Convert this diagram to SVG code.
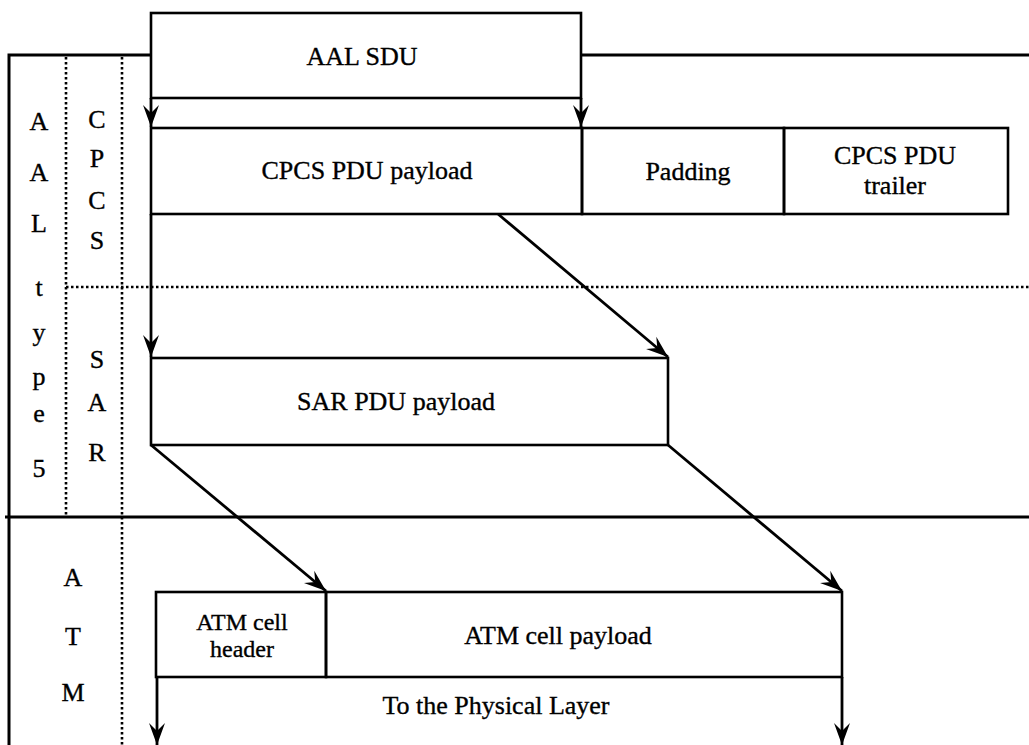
<svg xmlns="http://www.w3.org/2000/svg" width="1029" height="745" viewBox="0 0 1029 745">
<style>
.t{font-family:"Liberation Serif","Times New Roman",serif;font-size:26px;fill:#000;stroke:#000;stroke-width:0.35;text-anchor:middle}
.s{font-size:24px}
.box{fill:none;stroke:#000;stroke-width:2.6}
.frame{fill:none;stroke:#000;stroke-width:3}
.dot{fill:none;stroke:#000;stroke-width:2.6;stroke-dasharray:2.5 2.5}
.arr{fill:none;stroke:#000;stroke-width:2.8;marker-end:url(#ah)}
</style>
<defs>
<marker id="ah" markerUnits="userSpaceOnUse" markerWidth="26" markerHeight="22" viewBox="-24 -11 26 22" refX="0" refY="0" orient="auto">
<path d="M0,0 L-22,-8 L-14,0 L-22,8 Z" fill="#000"/>
</marker>
</defs>
<rect width="1029" height="745" fill="#fff"/>
<g id="frame">
<path class="frame" d="M9,745 V55 H151 M581,55 H1029"/>
<path class="frame" d="M5,517 H1029"/>
<path class="dot" d="M66,57 V517"/>
<path class="dot" d="M122,57 V745"/>
<path class="dot" d="M66,287 H1029"/>
</g>
<g id="layer-labels">
<text class="t" x="39" y="130">A</text>
<text class="t" x="39" y="181">A</text>
<text class="t" x="39" y="232">L</text>
<text class="t" x="39" y="296">t</text>
<text class="t" x="39" y="341">y</text>
<text class="t" x="39" y="385">p</text>
<text class="t" x="39" y="422">e</text>
<text class="t" x="39" y="477">5</text>
<text class="t" x="97" y="128">C</text>
<text class="t" x="97" y="167">P</text>
<text class="t" x="97" y="209">C</text>
<text class="t" x="97" y="249">S</text>
<text class="t" x="97" y="368">S</text>
<text class="t" x="97" y="411">A</text>
<text class="t" x="97" y="461">R</text>
<text class="t" x="73" y="586">A</text>
<text class="t" x="73" y="645">T</text>
<text class="t" x="73" y="701">M</text>
</g>
<g id="aal-sdu">
<rect class="box" x="151" y="13" width="430" height="85"/>
<text class="t" x="362" y="65">AAL SDU</text>
</g>
<g id="cpcs-payload">
<rect class="box" x="151" y="128" width="431" height="86"/>
<text class="t" x="367" y="179">CPCS PDU payload</text>
</g>
<g id="padding">
<rect class="box" x="582" y="128" width="202" height="86"/>
<text class="t" x="688" y="180">Padding</text>
</g>
<g id="cpcs-trailer">
<rect class="box" x="784" y="128" width="224" height="86"/>
<text class="t" x="895" y="164">CPCS PDU</text>
<text class="t" x="895" y="194">trailer</text>
</g>
<g id="sar-payload">
<rect class="box" x="151" y="358" width="517" height="87"/>
<text class="t" x="396" y="410">SAR PDU payload</text>
</g>
<g id="atm-header">
<rect class="box" x="156" y="592" width="170" height="85"/>
<text class="t s" x="242" y="630">ATM cell</text>
<text class="t s" x="242" y="657">header</text>
</g>
<g id="atm-payload">
<rect class="box" x="326" y="592" width="516" height="85"/>
<text class="t" x="558" y="644">ATM cell payload</text>
</g>
<g id="connectors">
<path class="arr" d="M151,98 V127"/>
<path class="arr" d="M581,98 V127"/>
<path class="arr" d="M151,214 V357"/>
<path class="arr" d="M498,214 L668,357"/>
<path class="arr" d="M151,445 L326,591"/>
<path class="arr" d="M668,445 L842,591"/>
<path class="arr" d="M157,677 V745"/>
<path class="arr" d="M842,677 V745"/>
</g>
<text class="t" x="496" y="714">To the Physical Layer</text>
</svg>
